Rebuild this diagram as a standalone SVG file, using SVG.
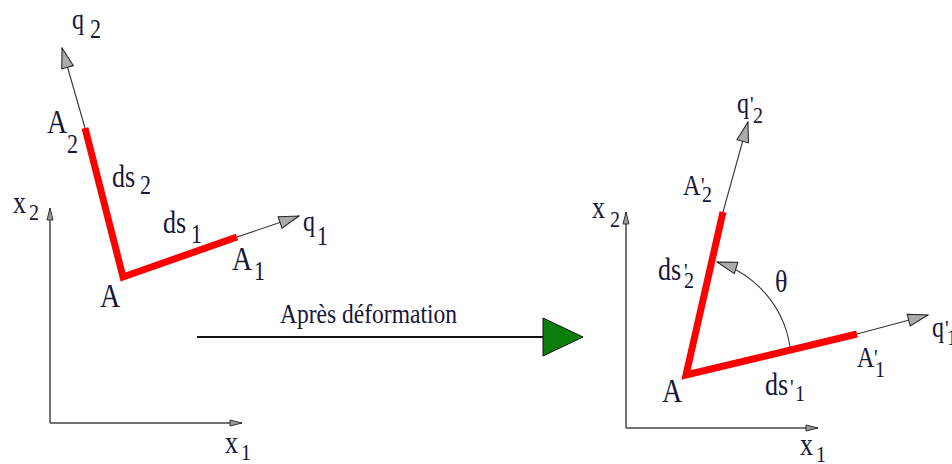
<svg xmlns="http://www.w3.org/2000/svg" width="952" height="464" viewBox="0 0 952 464" font-family="'Liberation Serif', 'DejaVu Serif', 'Times New Roman', Times, serif">
<defs>
<style>
text{font-family:'Liberation Serif','DejaVu Serif','Times New Roman',Times,serif;fill:#16163a}
.m{font-size:26px}
.big{font-size:28px}
.q{font-size:24px}
.s{font-size:22px}
.ss{font-size:20px}
.p{font-size:20px}
.red{fill:none;stroke:#ff0000;stroke-width:7;stroke-linejoin:miter}
.vec{fill:none;stroke:#333;stroke-width:1.1}
.ax{fill:none;stroke:#444;stroke-width:1.5}
</style>
<marker id="hv" viewBox="0 0 22 14" refX="21" refY="7" markerWidth="22" markerHeight="14" markerUnits="userSpaceOnUse" orient="auto">
<path d="M1,1 L21,7 L1,13 z" fill="#aaa" stroke="#222" stroke-width="1"/>
</marker>
<marker id="ha" viewBox="0 0 14 8" refX="13" refY="4" markerWidth="14" markerHeight="8" markerUnits="userSpaceOnUse" orient="auto">
<path d="M1,1 L13,4 L1,7 z" fill="#999" stroke="#333" stroke-width="1"/>
</marker>
</defs>
<rect width="952" height="464" fill="#fff"/>

<g id="connectors">
<line class="ax" x1="50" y1="423" x2="50" y2="208" marker-end="url(#ha)"/>
<line class="ax" x1="50" y1="423" x2="242" y2="423" marker-end="url(#ha)"/>
<line class="ax" x1="626" y1="428" x2="626" y2="212" marker-end="url(#ha)"/>
<line class="ax" x1="626" y1="428" x2="818" y2="428" marker-end="url(#ha)"/>
<line class="vec" x1="85" y1="128" x2="62" y2="48" marker-end="url(#hv)"/>
<line class="vec" x1="237" y1="237" x2="299" y2="216" marker-end="url(#hv)"/>
<line class="vec" x1="723" y1="212" x2="748" y2="122" marker-end="url(#hv)"/>
<line class="vec" x1="857" y1="334" x2="928" y2="315" marker-end="url(#hv)"/>
<path class="vec" d="M790,347 A105,105 0 0 0 717,262" marker-end="url(#hv)"/>
<line x1="197" y1="337" x2="545" y2="337" stroke="#111" stroke-width="1.8"/>
<path d="M543,318 L583,337 L543,356 z" fill="#0b7d0b" stroke="#111" stroke-width="1"/>
</g>

<g id="segments-before">
<polyline class="red" points="85,128 123,277 237,237"/>
</g>
<g id="segments-after">
<polyline class="red" points="723,212 686,375 857,334"/>
</g>

<g id="q2" transform="translate(72,29) scale(1,1.2)"><text class="q">q</text><text class="s" x="18" y="7.5">2</text></g>
<g id="A2" transform="translate(47,133) scale(1,1.2)"><text class="big">A</text><text class="s" x="20" y="16.7">2</text></g>
<g id="ds2" transform="translate(112,187) scale(1,1.2)"><text class="m">ds</text><text class="s" x="28" y="5.8">2</text></g>
<g id="x2-left" transform="translate(13,213) scale(1,1.2)"><text class="m">x</text><text class="ss" x="16" y="5.8">2</text></g>
<g id="ds1" transform="translate(163,233) scale(1,1.2)"><text class="m">ds</text><text class="s" x="28" y="8.3">1</text></g>
<g id="q1" transform="translate(303,231) scale(1,1.2)"><text class="q">q</text><text class="s" x="14" y="11.7">1</text></g>
<g id="A1" transform="translate(232,270) scale(1,1.2)"><text class="big">A</text><text class="s" x="22" y="8.3">1</text></g>
<g id="A-left" transform="translate(100,307) scale(1,1.2)"><text class="big">A</text></g>
<g id="x1-left" transform="translate(225,453) scale(1,1.2)"><text class="m">x</text><text class="ss" x="16" y="5.8">1</text></g>

<g id="label-apres" transform="translate(280,323) scale(1,1.2)"><text font-size="23" textLength="177" lengthAdjust="spacingAndGlyphs">Après déformation</text></g>

<g id="q2p" transform="translate(737,113) scale(1,1.2)"><text class="q">q</text><text class="p" x="13" y="-1">'</text><text class="ss" x="16" y="8.3">2</text></g>
<g id="A2p" transform="translate(683,195) scale(1,1.2)"><text class="q">A</text><text class="p" x="18" y="-2">'</text><text class="ss" x="19" y="5.8">2</text></g>
<g id="x2-right" transform="translate(592,218) scale(1,1.2)"><text class="m">x</text><text class="ss" x="18" y="7.5">2</text></g>
<g id="ds2p" transform="translate(658,280) scale(1,1.2)"><text class="m">ds</text><text class="p" x="26" y="-1">'</text><text class="ss" x="26" y="6.7">2</text></g>
<g id="theta" transform="translate(775,292) scale(1,1.2)"><text class="m">θ</text></g>
<g id="q1p" transform="translate(932,337) scale(1,1.2)"><text class="q">q</text><text class="p" x="13" y="-1">'</text><text class="ss" x="15" y="6.7">1</text></g>
<g id="A1p" transform="translate(857,367) scale(1,1.2)"><text class="q">A</text><text class="p" x="17" y="-2">'</text><text class="ss" x="18" y="8.3">1</text></g>
<g id="A-right" transform="translate(662,402) scale(1,1.2)"><text class="big">A</text></g>
<g id="ds1p" transform="translate(765,395) scale(1,1.2)"><text class="m">ds</text><text class="p" x="25" y="0">'</text><text class="ss" x="30" y="5">1</text></g>
<g id="x1-right" transform="translate(800,455) scale(1,1.2)"><text class="m">x</text><text class="ss" x="16" y="5.8">1</text></g>
</svg>
